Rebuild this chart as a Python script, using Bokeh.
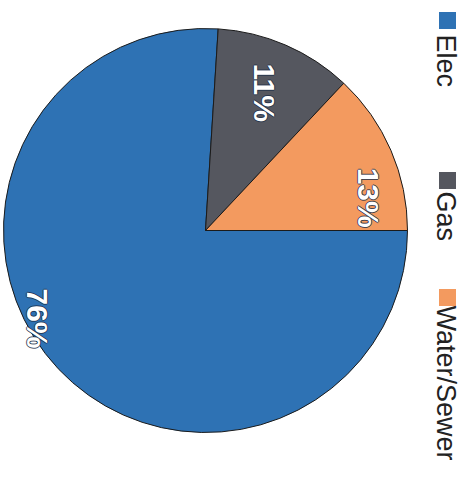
import math
from bokeh.plotting import figure
from bokeh.models import Range1d, ColumnDataSource
from bokeh.core.properties import value
from bokeh.embed import file_html
from bokeh.resources import INLINE

# ---- data ----
categories = ["Elec", "Gas", "Water/Sewer"]
values = [76, 11, 13]
labels = ["76%", "11%", "13%"]
colors = ["#2E72B4", "#55575F", "#F39A5F"]

# ---- layout (reference pixel coordinates; y measured downward) ----
PW, PH = 460, 465
CX, CY, R = 205, 230, 202
START_DEG = 0.0            # first slice starts at east, runs clockwise
label_ang = [207.6, 66.8, 11.4]
label_rad = [190, 150, 166]

def Y(py):
    return PH - py

p = figure(width=PW, height=PH,
           x_range=Range1d(0, PW), y_range=Range1d(0, PH),
           output_backend="svg", toolbar_location=None, min_border=0)
p.axis.visible = False
p.grid.visible = False
p.outline_line_color = None
p.background_fill_color = "white"
p.border_fill_color = "white"

# wedges
total = sum(values)
starts, ends = [], []
a = math.radians(START_DEG)
for v in values:
    span = 2 * math.pi * v / total
    starts.append(a)
    ends.append(a - span)
    a -= span

src = ColumnDataSource(dict(start=starts, end=ends, color=colors, cat=categories))
p.wedge(x=CX, y=Y(CY), radius=R, start_angle="start", end_angle="end",
        direction="clock", fill_color="color", line_color="#1b1b1b",
        line_width=1.0, source=src)

# labels (thin dark outline, then white)
lx = [CX + r * math.cos(math.radians(t)) for r, t in zip(label_rad, label_ang)]
ly = [Y(CY) + r * math.sin(math.radians(t)) for r, t in zip(label_rad, label_ang)]
for ox, oy in [(-1, 0), (1, 0), (0, -1), (0, 1)]:
    p.text(x=[x + ox for x in lx], y=[y + oy for y in ly], text=labels,
           angle=-math.pi / 2, text_align="center", text_baseline="middle",
           text_font=value("Liberation Sans"), text_font_size="30px",
           text_font_style="bold", text_color="#1c2e48", text_alpha=0.8)
p.text(x=lx, y=ly, text=labels, angle=-math.pi / 2, text_align="center",
       text_baseline="middle", text_font=value("Liberation Sans"),
       text_font_size="30px", text_font_style="bold", text_color="white")

# legend (rotated, vertical down the right side)
leg_x = 445
leg_sq_y = [20, 180, 297]
leg_tx_y = [34, 191, 305]
p.rect(x=[leg_x + 2] * 3, y=[Y(v) for v in leg_sq_y], width=17, height=17,
       fill_color=colors, line_color=None)
p.text(x=[leg_x] * 3, y=[Y(v) for v in leg_tx_y], text=categories,
       angle=-math.pi / 2, text_align="left", text_baseline="middle",
       text_font=value("Liberation Sans"), text_font_size="27px",
       text_color="#222222")

open("out.html", "w").write(file_html(p, INLINE))
